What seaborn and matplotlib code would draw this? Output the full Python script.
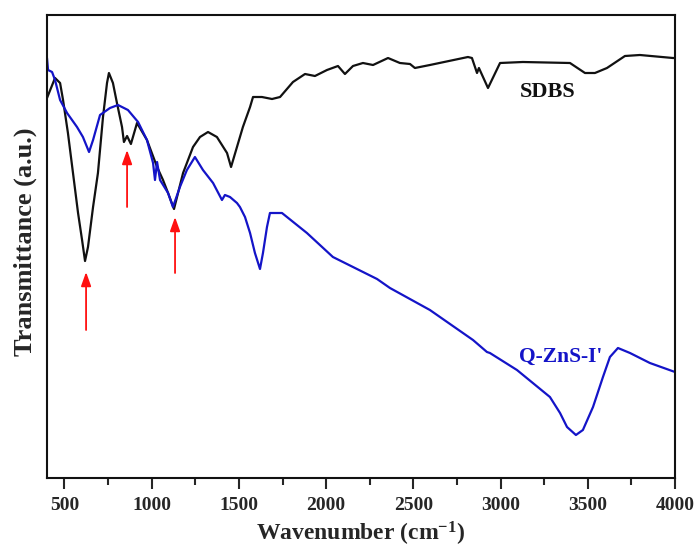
import numpy as np
import pandas as pd
import matplotlib
matplotlib.use("Agg")
import matplotlib.pyplot as plt
import seaborn as sns

# ---- data (arbitrary units) ----
sdbs_wn = [400, 446, 475, 492, 520, 549, 578, 601, 618, 635, 664, 692, 721, 744, 755,
           778, 801, 830, 841, 859, 881, 916, 973, 1031, 1065, 1094, 1128, 1180, 1237,
           1277, 1323, 1374, 1432, 1455, 1489, 1523, 1564, 1581,
           1632, 1690, 1736, 1810, 1879, 1936, 2005, 2068, 2108, 2154, 2211, 2269, 2355,
           2423, 2481, 2509, 2595, 2813, 2836, 2865, 2876, 2928, 2997, 3128, 3398, 3484,
           3541, 3610, 3713, 3799, 3988, 4000]
sdbs_t = [380, 400, 395, 378, 345, 305, 265, 238, 217, 231, 271, 305, 361, 395, 405,
          395, 375, 351, 336, 342, 334, 355, 338, 311, 298, 285, 269, 305, 331,
          341, 346, 341, 325, 311, 331, 351, 371, 381,
          381, 379, 381, 396, 404, 402, 408, 412, 404, 412, 415, 413, 420,
          415, 414, 410, 413, 421, 420, 405, 410, 390, 415, 416, 415, 405,
          405, 410, 422, 423, 420, 420]

zns_wn = [400, 406, 429, 446, 475, 515, 572, 606, 641, 664, 704, 761, 807, 864, 922,
          973, 1008, 1019, 1031, 1048, 1094, 1122, 1162, 1202, 1248, 1294, 1352, 1403,
          1420, 1449, 1489, 1506, 1535, 1564, 1592, 1621, 1638, 1661, 1678, 1707, 1747,
          1890, 2039, 2292, 2366, 2595, 2842, 2922, 2939, 3094, 3283, 3341, 3381, 3432,
          3472, 3530, 3587, 3627, 3673, 3742, 3856, 4000]
zns_t = [420, 408, 406, 398, 378, 365, 351, 341, 326, 338, 363, 370, 373, 368, 356,
         338, 315, 298, 316, 298, 285, 271, 291, 308, 321, 308, 295, 278,
         283, 281, 275, 271, 261, 245, 225, 209, 225, 251, 265, 265, 265,
         245, 221, 199, 190, 168, 138, 126, 125, 108, 81, 65, 51, 43,
         48, 71, 101, 121, 130, 125, 115, 106]

series_names = ["SDBS", "Q-ZnS-I'"]
arrow_wn = [624, 859, 1134]
arrow_tail = [148, 271, 205]
arrow_tip = [206, 328, 261]
x_ticks = [500, 1000, 1500, 2000, 2500, 3000, 3500, 4000]

# ---- style ----
sns.set_theme(style="ticks")
plt.rcParams["font.family"] = ["Liberation Serif", "DejaVu Serif"]
plt.rcParams["font.weight"] = "bold"
plt.rcParams["mathtext.fontset"] = "custom"
plt.rcParams["mathtext.rm"] = "Liberation Serif:bold"
plt.rcParams["mathtext.bf"] = "Liberation Serif:bold"
plt.rcParams["mathtext.default"] = "bf"

fig = plt.figure(figsize=(6.97, 5.49), dpi=100)
ax = fig.add_axes([47 / 697, 71 / 549, 628 / 697, 463 / 549])

df_s = pd.DataFrame({"wn": sdbs_wn, "t": sdbs_t})
df_z = pd.DataFrame({"wn": zns_wn, "t": zns_t})
sns.lineplot(data=df_s, x="wn", y="t", ax=ax, color="#111111", lw=1.6, sort=False, estimator=None)
sns.lineplot(data=df_z, x="wn", y="t", ax=ax, color="#1414c8", lw=1.6, sort=False, estimator=None)

for xw, yt, yh in zip(arrow_wn, arrow_tail, arrow_tip):
    ax.annotate("", xy=(xw, yh), xytext=(xw, yt),
                arrowprops=dict(arrowstyle="-|>,head_length=0.7,head_width=0.25",
                                color="#ff1010", lw=1.3, shrinkA=0, shrinkB=0))

ax.text(3272, 386, series_names[0], color="#111111", fontsize=16, fontweight="bold",
        ha="center", va="center")
ax.text(3346, 121, series_names[1], color="#1414c8", fontsize=15.5, fontweight="bold",
        ha="center", va="center")

ax.set_xlim(400, 4000)
ax.set_ylim(0, 463)
ax.set_xticks(x_ticks)
ax.set_xticklabels([str(v) for v in x_ticks])
ax.set_xticks([750, 1250, 1750, 2250, 2750, 3250, 3750], minor=True)
ax.set_yticks([])
ax.tick_params(axis="x", which="major", direction="out", length=8, width=1.5,
               labelsize=14, pad=6)
ax.tick_params(axis="x", which="minor", direction="out", length=5, width=1.5)
for lab in ax.get_xticklabels():
    lab.set_fontweight("bold")
for sp in ax.spines.values():
    sp.set_visible(True)
    sp.set_linewidth(1.5)
    sp.set_color("#111111")

ax.set_xlabel(r"Wavenumber (cm$^{-1}$)", fontsize=17, fontweight="bold", labelpad=4)
ax.set_ylabel("Transmittance (a.u.)", fontsize=19, fontweight="bold")
ax.yaxis.set_label_coords(-0.016, 0.51)

fig.savefig("out.png", dpi=100)
